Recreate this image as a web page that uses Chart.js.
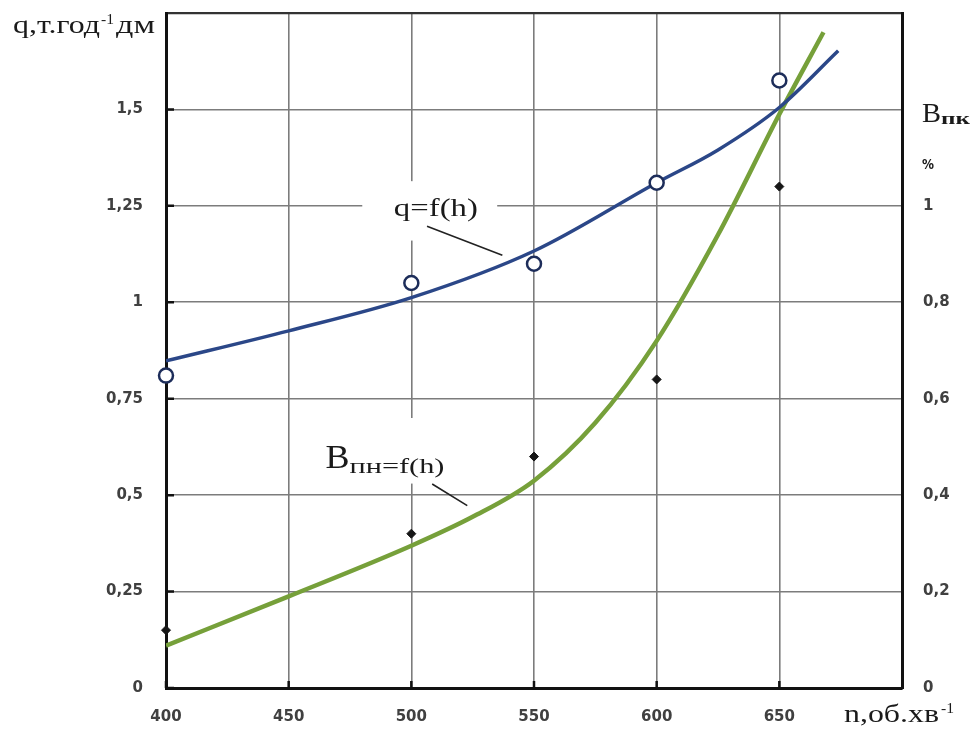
<!DOCTYPE html>
<html>
<head>
<meta charset="utf-8">
<script src="https://cdn.jsdelivr.net/npm/chart.js@4.4.1/dist/chart.umd.min.js"></script>
<style>
  html, body { margin: 0; padding: 0; background: #fff; }
  #wrap { width: 978px; height: 734px; }
</style>
</head>
<body>
<div id="wrap"><canvas id="c" width="978" height="734"></canvas></div>
<script>
// rotation speed of the measured points, об/хв
const speedPoints = [400, 500, 550, 600, 650];
// measured specific output q, т·год⁻¹·дм
const qMeasured = [0.81, 1.05, 1.10, 1.31, 1.575];
// measured losses Bпн, %
const bMeasured = [0.12, 0.32, 0.48, 0.64, 1.04];

// fitted trend q = f(h)
const qTrendSpeed = [400, 450, 500, 550, 600, 625, 650, 674];
const qTrendValue = [0.848, 0.926, 1.012, 1.133, 1.31, 1.395, 1.505, 1.652];
// fitted trend Bпн = f(h)
const bTrendSpeed = [400, 450, 500, 525, 550, 575, 600, 625, 650, 668];
const bTrendValue = [0.088, 0.19, 0.295, 0.355, 0.43, 0.55, 0.72, 0.94, 1.19, 1.36];

// axis ticks
const speedTicks = [400, 450, 500, 550, 600, 650];
const qTicks = [0, 0.25, 0.5, 0.75, 1, 1.25, 1.5];
const bTicks = [0, 0.2, 0.4, 0.6, 0.8, 1];

const SPEED_MAX = 700;
const Q_MAX = 1.75;
const B_MAX = 1.4;

const pairs = (xs, ys) => xs.map((x, i) => ({ x: x, y: ys[i] }));
const comma = v => String(v).replace('.', ',');

const tickFont = { family: 'DejaVu Sans', size: 15, weight: 'bold' };
const tickColor = '#404040';
const gridColor = '#7c7c7c';
const serif = 'Liberation Serif';

// draw text squeezed/stretched to a given width
function fitText(ctx, text, x, y, width, font) {
  ctx.save();
  ctx.font = font;
  ctx.textAlign = 'left';
  ctx.textBaseline = 'alphabetic';
  const w = ctx.measureText(text).width;
  ctx.translate(x, y);
  ctx.scale(width / w, 1);
  ctx.fillText(text, 0, 0);
  ctx.restore();
}

// keep the scale boxes at fixed sizes with no extra edge padding
function fixBox(prop, size) {
  return s => {
    s[prop] = size;
    s.paddingTop = 0; s.paddingBottom = 0;
    s.paddingLeft = 0; s.paddingRight = 0;
  };
}

// curve captions with leader lines, placed in data coordinates
const captionPlugin = {
  id: 'captions',
  beforeDatasetsDraw(chart) {
    const ctx = chart.ctx;
    const xs = chart.scales.x, ys = chart.scales.y;
    const px = v => xs.getPixelForValue(v);
    const py = v => ys.getPixelForValue(v);

    ctx.save();
    // white backing behind the captions
    ctx.fillStyle = '#fff';
    ctx.fillRect(px(480), py(1.314), px(535) - px(480), py(1.16) - py(1.314));
    ctx.fillRect(px(461), py(0.70), px(524) - px(461), py(0.53) - py(0.70));

    ctx.fillStyle = '#1a1a1a';
    // q = f(h)
    const qLeft = px(510) - 42;
    fitText(ctx, 'q=f(h)', qLeft, py(1.224), 84, '26px "' + serif + '"');
    // Bпн = f(h)
    fitText(ctx, 'B', px(465), py(0.5715), 24, '34px "' + serif + '"');
    fitText(ctx, 'пн=f(h)', px(465) + 24, py(0.558), 95, '21px "' + serif + '"');

    // leader lines
    ctx.strokeStyle = '#222';
    ctx.lineWidth = 1.6;
    ctx.beginPath();
    ctx.moveTo(px(506.4), py(1.197));
    ctx.lineTo(px(537.1), py(1.122));
    ctx.moveTo(px(508.5), py(0.529));
    ctx.lineTo(px(522.8), py(0.473));
    ctx.stroke();
    ctx.restore();
  },
  afterDraw(chart) {
    const ctx = chart.ctx;
    const a = chart.chartArea;
    const xs = chart.scales.x, ys = chart.scales.y;
    ctx.save();
    // short inward tick marks on the axes
    ctx.strokeStyle = '#111';
    ctx.lineWidth = 2.5;
    ctx.beginPath();
    qTicks.forEach(v => {
      const y = ys.getPixelForValue(v);
      ctx.moveTo(a.left, y); ctx.lineTo(a.left + 8, y);
    });
    speedTicks.forEach(v => {
      const x = xs.getPixelForValue(v);
      ctx.moveTo(x, a.bottom); ctx.lineTo(x, a.bottom - 7);
    });
    ctx.stroke();

    // axis titles
    ctx.fillStyle = '#1a1a1a';
    fitText(ctx, 'q,т.год', 13, 33, 87, '26px "' + serif + '"');
    fitText(ctx, '-1', 101, 24, 13, '15px "' + serif + '"');
    fitText(ctx, 'дм', 116, 33, 39, '26px "' + serif + '"');

    fitText(ctx, 'n,об.хв', 844, 722, 95, '26px "' + serif + '"');
    fitText(ctx, '-1', 941, 713, 13, '15px "' + serif + '"');

    fitText(ctx, 'B', 922, 122, 19, '28px "' + serif + '"');
    fitText(ctx, 'пк', 941, 124, 29, 'bold 16px "' + serif + '"');
    fitText(ctx, '%', 922, 169, 12, 'bold 14px "DejaVu Sans"');
    ctx.restore();
  }
};

new Chart(document.getElementById('c'), {
  type: 'scatter',
  data: {
    datasets: [
      {
        label: 'q вимір',
        data: pairs(speedPoints, qMeasured),
        yAxisID: 'y',
        order: 0,
        clip: false,
        showLine: false,
        pointStyle: 'circle',
        pointRadius: 7,
        pointBackgroundColor: '#ffffff',
        pointBorderColor: '#1d2d5a',
        pointBorderWidth: 2.5
      },
      {
        label: 'Bпн вимір',
        data: pairs(speedPoints, bMeasured),
        yAxisID: 'y2',
        order: 0,
        clip: false,
        showLine: false,
        pointStyle: 'rectRot',
        pointRadius: 4.5,
        pointBackgroundColor: '#161616',
        pointBorderColor: '#161616',
        pointBorderWidth: 1
      },
      {
        label: 'q=f(h)',
        data: pairs(qTrendSpeed, qTrendValue),
        yAxisID: 'y',
        order: 1,
        showLine: true,
        borderColor: '#2b4788',
        borderWidth: 3.5,
        pointRadius: 0,
        cubicInterpolationMode: 'monotone'
      },
      {
        label: 'Bпн=f(h)',
        data: pairs(bTrendSpeed, bTrendValue),
        yAxisID: 'y2',
        order: 1,
        showLine: true,
        borderColor: '#76a03a',
        borderWidth: 4.5,
        pointRadius: 0,
        cubicInterpolationMode: 'monotone'
      }
    ]
  },
  options: {
    responsive: false,
    animation: false,
    layout: { autoPadding: false, padding: { top: 13, left: 0, right: 0, bottom: 0 } },
    plugins: {
      legend: { display: false },
      tooltip: { enabled: false }
    },
    scales: {
      x: {
        type: 'linear',
        position: 'bottom',
        min: 400,
        max: SPEED_MAX,
        afterBuildTicks: s => { s.ticks = speedTicks.concat([SPEED_MAX]).map(v => ({ value: v })); },
        afterFit: fixBox('height', 46),
        ticks: {
          font: tickFont,
          color: tickColor,
          padding: 20,
          maxRotation: 0,
          callback: v => (speedTicks.includes(v) ? String(v) : '')
        },
        grid: { color: gridColor, lineWidth: 1.6, drawTicks: false },
        border: { display: true, color: '#111', width: 3 }
      },
      y: {
        position: 'left',
        min: 0,
        max: Q_MAX,
        afterBuildTicks: s => { s.ticks = qTicks.concat([Q_MAX]).map(v => ({ value: v })); },
        afterFit: fixBox('width', 166),
        ticks: {
          font: tickFont,
          color: tickColor,
          padding: 23,
          callback: v => (qTicks.includes(v) ? comma(v) : '')
        },
        grid: {
          drawTicks: false,
          color: c => (c.tick && c.tick.value === Q_MAX ? '#333' : gridColor),
          lineWidth: c => (c.tick && c.tick.value === Q_MAX ? 2.2 : 1.6)
        },
        border: { display: true, color: '#111', width: 3 }
      },
      y2: {
        position: 'right',
        min: 0,
        max: B_MAX,
        afterBuildTicks: s => { s.ticks = bTicks.map(v => ({ value: v })); },
        afterFit: fixBox('width', 76),
        ticks: {
          font: tickFont,
          color: tickColor,
          padding: 21,
          callback: v => comma(v)
        },
        grid: { display: false, drawTicks: false },
        border: { display: true, color: '#111', width: 3 }
      }
    }
  },
  plugins: [captionPlugin]
});
</script>
</body>
</html>
